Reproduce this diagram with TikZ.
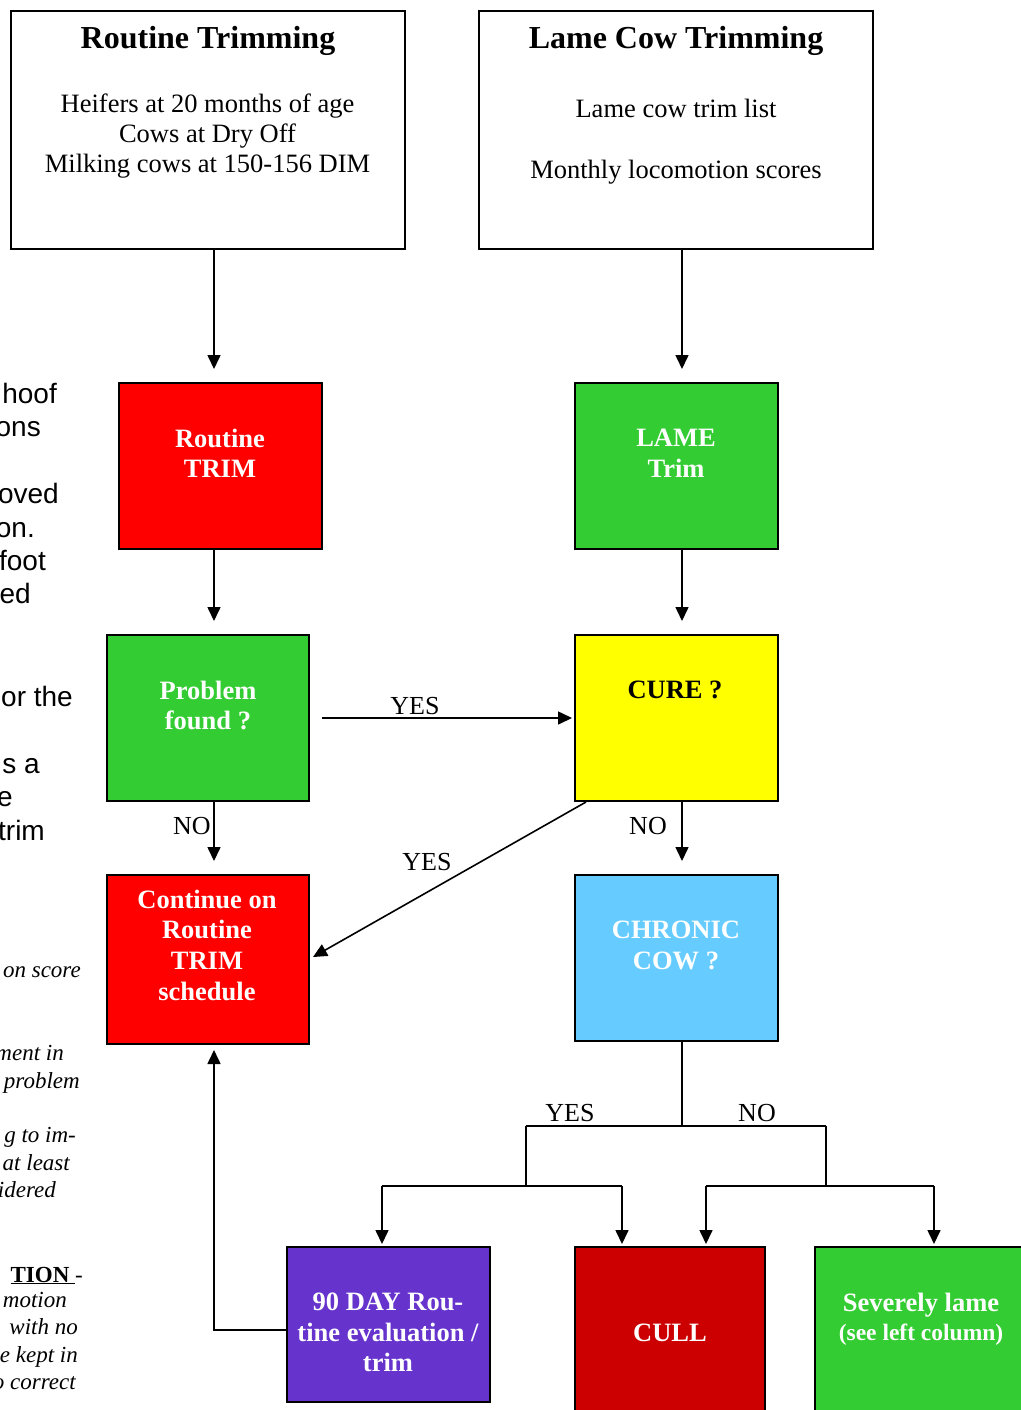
\documentclass[tikz,border=0pt]{standalone}
\usepackage{fontspec}
\setmainfont{Liberation Serif}
\newfontfamily\arialf{Liberation Sans}
\usetikzlibrary{arrows.meta,calc}
\definecolor{cred}{HTML}{FF0000}
\definecolor{cgreen}{HTML}{33CC33}
\definecolor{cyellow}{HTML}{FFFF00}
\definecolor{cblue}{HTML}{66CCFF}
\definecolor{cpurple}{HTML}{6633CC}
\definecolor{cdred}{HTML}{CC0000}
\tikzset{
  box/.style={draw=black, line width=2pt, inner sep=0pt, minimum width=#1},
  box/.default=203pt,
  ln/.style={line width=1.6pt},
  arr/.style={line width=1.6pt, -{Triangle[length=14pt,width=13pt]}},
  wtxt/.style={text=white, font=\bfseries\fontsize{26.5}{30.7}\selectfont, align=center, inner sep=0pt, anchor=north},
  btxt/.style={text=black, font=\bfseries\fontsize{26.5}{30.7}\selectfont, align=center, inner sep=0pt, anchor=north},
  lbl/.style={font=\fontsize{26}{30}\selectfont, inner sep=0pt, anchor=base},
  sidefrag/.style={font=\arialf\fontsize{28}{33}\selectfont, inner sep=0pt, anchor=base east},
  itfrag/.style={font=\itshape\fontsize{23}{27}\selectfont, inner sep=0pt, anchor=base east}
}
\begin{document}
\begin{tikzpicture}[x=1pt,y=-1pt]
\useasboundingbox (0,0) rectangle (1020,1410);
\fill[white] (0,0) rectangle (1020,1410);

% boxes
\node[box=394pt, minimum height=238pt, fill=white] (B1) at (208,130) {};
\node[box=394pt, minimum height=238pt, fill=white] (B2) at (676,130) {};
\node[box, minimum height=166pt, fill=cred] (RT) at (220.5,466) {};
\node[box, minimum height=166pt, fill=cgreen] (LT) at (676.5,466) {};
\node[box=202pt, minimum height=166pt, fill=cgreen] (PF) at (208,718) {};
\node[box, minimum height=166pt, fill=cyellow] (CU) at (676.5,718) {};
\node[box=202pt, minimum height=169pt, fill=cred] (CO) at (208,959.5) {};
\node[box, minimum height=166pt, fill=cblue] (CH) at (676.5,958) {};
\node[box, minimum height=155pt, fill=cpurple] (ND) at (388.5,1324.5) {};
\node[box=190pt, minimum height=166pt, fill=cdred] (CL) at (670,1330) {};
\node[box=210pt, minimum height=166pt, fill=cgreen] (SL) at (920,1330) {};

% box texts
\node[font=\bfseries\fontsize{32}{36}\selectfont, inner sep=0pt, anchor=north] (B1t) at (208,26) {Routine Trimming};
\node[font=\fontsize{26.5}{30}\selectfont, align=center, inner sep=0pt, anchor=north] (B1b) at (207.5,94) {Heifers at 20 months of age\\Cows at Dry Off\\Milking cows at 150-156 DIM};
\node[font=\bfseries\fontsize{32}{36}\selectfont, inner sep=0pt, anchor=north] (B2t) at (676,26) {Lame Cow Trimming};
\node[font=\fontsize{26.5}{30}\selectfont, align=center, inner sep=0pt, anchor=north] (B2b) at (676,99) {Lame cow trim list\\[30.5pt]Monthly locomotion scores};
\node[wtxt] (RTt) at (220,428.7) {Routine\\TRIM};
\node[wtxt] (LTt) at (676,428.7) {LAME\\Trim};
\node[wtxt] (PFt) at (208,680.7) {Problem\\found ?};
\node[btxt] (CUt) at (675,680.7) {CURE ?};
\node[wtxt] (COt) at (207,889.7) {Continue on\\Routine\\TRIM\\schedule};
\node[wtxt] (CHt) at (676,920.7) {CHRONIC\\COW ?};
\node[wtxt] (NDt) at (388,1292.7) {90 DAY Rou-\\tine evaluation /\\trim};
\node[wtxt] (CLt) at (670,1323.7) {CULL};
\node[wtxt, font=\bfseries\fontsize{26.5}{29}\selectfont] (SLt) at (921,1292.7) {Severely lame\\{\fontsize{23.5}{29}\selectfont (see left column)}};

% helper coordinates
\coordinate (cx1) at (214,0);
\coordinate (cx2) at (682,0);
\coordinate (jl) at (526,1126);
\coordinate (jr) at (826,1126);
\coordinate (jll) at (526,1186);
\coordinate (jrr) at (826,1186);
\coordinate (a1) at (382,1186);
\coordinate (a2) at (622,1186);
\coordinate (a3) at (706,1186);
\coordinate (a4) at (934,1186);
\coordinate (nb) at (287,1330);

% connectors
\draw[arr, shorten >=13pt] (B1.south -| cx1) -- (RT.north -| cx1);
\draw[arr, shorten >=13pt] (B2.south -| cx2) -- (LT.north -| cx2);
\draw[arr, shorten >=13pt] (RT.south -| cx1) -- (PF.north -| cx1);
\draw[arr, shorten >=13pt] (LT.south -| cx2) -- (CU.north -| cx2);
\draw[arr, shorten <=12pt, shorten >=2pt] (PF.east) -- (CU.west);
\draw[arr, shorten >=13pt] (PF.south -| cx1) -- (CO.north -| cx1);
\draw[arr, shorten >=13pt] (CU.south -| cx2) -- (CH.north -| cx2);
\draw[arr] ([xshift=12pt]CU.south west) -- ([yshift=2.5pt,xshift=3pt]CO.east);
\draw[ln] (CH.south -| cx2) -- (cx2 |- jl);
\draw[ln] (jl) -- (jr);
\draw[ln] (jl) -- (jll);
\draw[ln] (jr) -- (jrr);
\draw[ln] (a1) -- (a2);
\draw[ln] (a3) -- (a4);
\draw[arr, shorten >=2pt] (a1) -- (a1 |- ND.north);
\draw[arr, shorten >=2pt] (a2) -- (a2 |- CL.north);
\draw[arr, shorten >=2pt] (a3) -- (a3 |- CL.north);
\draw[arr, shorten >=2pt] (a4) -- (a4 |- SL.north);
\draw[arr, shorten >=5pt] (nb) -| (CO.south -| cx1);

% connector labels
\node[lbl] (l1) at (415,714.6) {YES};
\node[lbl] (l2) at (192,834.6) {NO};
\node[lbl] (l3) at (648,834.6) {NO};
\node[lbl] (l4) at (427,870.6) {YES};
\node[lbl] (l5) at (570,1121.6) {YES};
\node[lbl] (l6) at (757,1121.6) {NO};

% cut-off text of neighbouring column
\node[sidefrag] (s1) at (57,403.3) {hoof};
\node[sidefrag] (s2) at (41,436.7) {ons};
\node[sidefrag] (s3) at (59,503.3) {oved};
\node[sidefrag] (s4) at (35,537.7) {on.};
\node[sidefrag] (s5) at (46,570) {foot};
\node[sidefrag] (s6) at (31,603.3) {ed};
\node[sidefrag] (s7) at (73,706.7) {or the};
\node[sidefrag] (s8) at (40,773) {s a};
\node[sidefrag] (s9) at (13,806.7) {e};
\node[sidefrag] (s10) at (45,840) {trim};

\node[itfrag] (i1) at (81,977) {on score};
\node[itfrag] (i2) at (64,1060) {ment in};
\node[itfrag] (i3) at (80,1088) {problem};
\node[itfrag] (i4) at (76,1142) {g to im-};
\node[itfrag] (i5) at (70,1170) {at least};
\node[itfrag] (i6) at (56,1197) {idered};
\node[itfrag, font=\fontsize{23}{27}\selectfont] (i7) at (83,1282) {\underline{\textbf{TION }}-};
\node[itfrag] (i8) at (67,1307) {motion};
\node[itfrag] (i9) at (78,1334) {with no};
\node[itfrag] (i10) at (78,1362) {e kept in};
\node[itfrag] (i11) at (76,1389) {o correct};
\end{tikzpicture}
\end{document}
